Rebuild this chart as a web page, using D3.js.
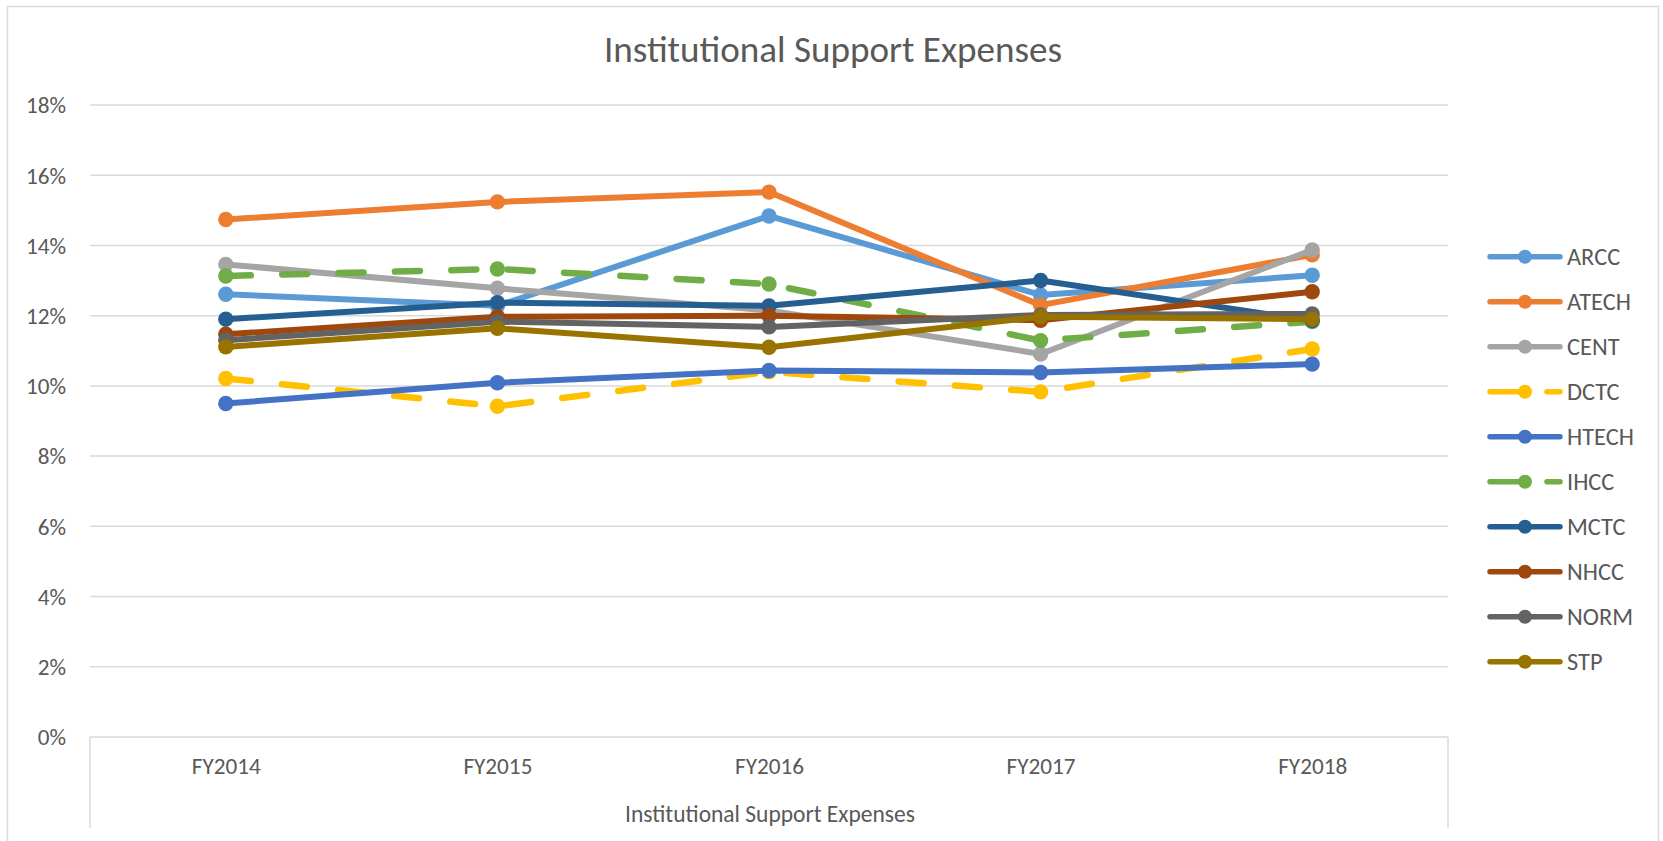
<!DOCTYPE html>
<html><head><meta charset="utf-8">
<script src="https://cdn.jsdelivr.net/npm/d3@7"></script>
<style>
body{margin:0;background:#fff;}
svg{display:block;}
text{font-family: Carlito, Calibri, Lato, "Open Sans", sans-serif; fill:#595959;}
</style>
</head><body>
<svg id="chart" width="1663" height="841"></svg>
<script>
// ---- data ----
const years = ["FY2014", "FY2015", "FY2016", "FY2017", "FY2018"];
const seriesNames = ["ARCC", "ATECH", "CENT", "DCTC", "HTECH", "IHCC", "MCTC", "NHCC", "NORM", "STP"];
const ARCC  = [0.1261, 0.1228, 0.1484, 0.1259, 0.1315];
const ATECH = [0.1474, 0.1524, 0.1552, 0.1230, 0.1373];
const CENT  = [0.1346, 0.1278, 0.1215, 0.1091, 0.1387];
const DCTC  = [0.1021, 0.0942, 0.1040, 0.0983, 0.1105];
const HTECH = [0.0950, 0.1009, 0.1044, 0.1038, 0.1062];
const IHCC  = [0.1313, 0.1333, 0.1290, 0.1129, 0.1183];
const MCTC  = [0.1190, 0.1237, 0.1228, 0.1300, 0.1186];
const NHCC  = [0.1147, 0.1197, 0.1200, 0.1187, 0.1268];
const NORM  = [0.1130, 0.1183, 0.1168, 0.1202, 0.1205];
const STP   = [0.1111, 0.1164, 0.1110, 0.1197, 0.1190];
const seriesColors = ["#5B9BD5", "#ED7D31", "#A5A5A5", "#FFC000", "#4472C4", "#70AD47", "#255E91", "#9E480E", "#636363", "#997300"];
const seriesDashed = [false, false, false, true, false, true, false, false, false, false];
const yTicks = [0, 0.02, 0.04, 0.06, 0.08, 0.10, 0.12, 0.14, 0.16, 0.18];
const chartTitle = "Institutional Support Expenses";
const xAxisTitle = "Institutional Support Expenses";

const seriesValues = [ARCC, ATECH, CENT, DCTC, HTECH, IHCC, MCTC, NHCC, NORM, STP];
const series = seriesNames.map((n, i) => ({name: n, values: seriesValues[i], color: seriesColors[i], dashed: seriesDashed[i]}));

// ---- layout ----
const svg = d3.select("#chart");
const plotL = 90, plotR = 1448, plotT = 105, plotB = 737;

const x = d3.scalePoint().domain(years).range([plotL, plotR]).padding(0.5);
const y = d3.scaleLinear().domain([0, 0.18]).range([plotB, plotT]);

function fitWidth(sel, target) {
  const n = sel.node();
  const fs = parseFloat(sel.attr("font-size"));
  const w = n.getComputedTextLength();
  return fs * target / w;
}

// outer border
svg.append("rect").attr("x", 7.5).attr("y", 6.5).attr("width", 1651).attr("height", 900)
  .attr("fill", "none").attr("stroke", "#d9d9d9").attr("stroke-width", 1.5);

// gridlines
svg.append("g").selectAll("line").data(yTicks).join("line")
  .attr("x1", plotL).attr("x2", plotR)
  .attr("y1", d => y(d)).attr("y2", d => y(d))
  .attr("stroke", "#d9d9d9").attr("stroke-width", 1.5);

// category axis boundary lines
svg.append("g").selectAll("line").data([plotL, plotR]).join("line")
  .attr("x1", d => d).attr("x2", d => d).attr("y1", plotB).attr("y2", 828)
  .attr("stroke", "#d9d9d9").attr("stroke-width", 1.5);

// y tick labels
const yAxis = d3.axisLeft(y).tickValues(yTicks).tickFormat(d3.format(".0%")).tickSize(0).tickPadding(0);
const yg = svg.append("g").attr("transform", `translate(66,0)`).call(yAxis);
yg.select(".domain").remove();
yg.selectAll("text").attr("font-size", 20).attr("font-family", null).attr("fill", "#595959").attr("x", 0).attr("dy", "0.34em");
{
  const ref = yg.selectAll("text").filter(d => d === 0.18);
  const fs = fitWidth(ref, 40);
  yg.selectAll("text").attr("font-size", fs);
}

// x tick labels
const xAxis = d3.axisBottom(x).tickSize(0).tickPadding(0);
const xg = svg.append("g").attr("transform", `translate(0,${plotB})`).call(xAxis);
xg.select(".domain").remove();
xg.selectAll("text").attr("font-size", 20).attr("font-family", null).attr("fill", "#595959").attr("y", 37).attr("dy", 0);
{
  const ref = xg.selectAll("text").filter(d => d === "FY2016");
  const fs = fitWidth(ref, 69);
  xg.selectAll("text").attr("font-size", fs);
}

// axis title
const at = svg.append("text").attr("x", 770).attr("y", 821.5).attr("text-anchor", "middle")
  .attr("font-size", 20).text(xAxisTitle);
at.attr("font-size", fitWidth(at, 290));

// chart title
const ct = svg.append("text").attr("x", 833).attr("y", 62).attr("text-anchor", "middle")
  .attr("font-size", 30).text(chartTitle);
ct.attr("font-size", fitWidth(ct, 458));

// lines
const line = d3.line().x((d, i) => x(years[i])).y(d => y(d));
const sg = svg.append("g").selectAll("g").data(series).join("g");
sg.append("path")
  .attr("d", d => line(d.values))
  .attr("fill", "none").attr("stroke", d => d.color)
  .attr("stroke-width", d => d.dashed ? 6.5 : 6)
  .attr("stroke-linecap", d => d.dashed ? "round" : "butt")
  .attr("stroke-linejoin", "round")
  .attr("stroke-dasharray", d => d.dashed ? "25,31.4" : null);
sg.selectAll("circle").data(d => d.values.map((v, i) => ({v, i, color: d.color}))).join("circle")
  .attr("cx", d => x(years[d.i])).attr("cy", d => y(d.v)).attr("r", 7.7)
  .attr("fill", d => d.color);

// legend
const lg = svg.append("g").selectAll("g").data(series).join("g")
  .attr("transform", (d, i) => `translate(0,${256.7 + i * 45})`);
lg.append("line").attr("x1", 1490).attr("x2", 1560).attr("y1", 0).attr("y2", 0)
  .attr("stroke", d => d.color).attr("stroke-width", 5.5).attr("stroke-linecap", "round")
  .attr("stroke-dasharray", d => d.dashed ? "30,27" : null);
lg.append("circle").attr("cx", 1525).attr("cy", 0).attr("r", 7).attr("fill", d => d.color);
const lt = lg.append("text").attr("x", 1567).attr("y", 0).attr("dy", "0.35em").attr("font-size", 20).text(d => d.name);
{
  const ref = lt.filter(d => d.name === "ATECH");
  const fs = fitWidth(ref, 64);
  lt.attr("font-size", fs);
}
</script>
</body></html>
